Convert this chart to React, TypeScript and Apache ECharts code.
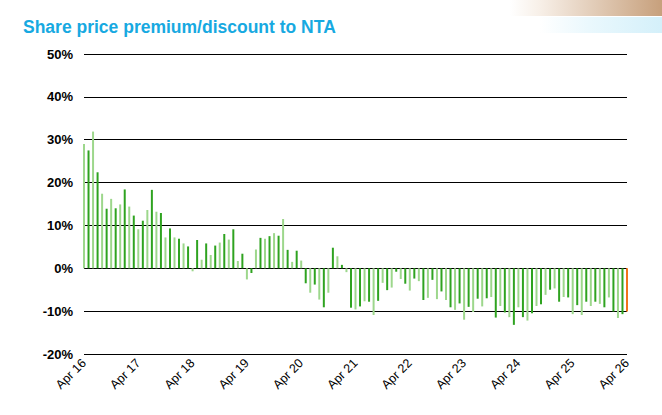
import React, { useEffect, useRef } from "react";
import * as echarts from "echarts";

// Monthly observations Apr 2016 .. Apr 2026 (premium(+)/discount(-) to NTA, %)
const values: number[] = [
  29.0, 27.5, 31.9, 22.4, 17.4, 13.9, 16.2, 14.0, 14.9, 18.4, 14.4, 12.3, 9.1, 11.1, 13.6, 18.3, 13.2, 12.9, 7.2, 9.3,
  7.2, 6.9, 5.8, 5.1, -0.7, 6.6, 2.0, 5.8, 3.1, 5.3, 6.0, 8.0, 6.7, 9.1, 1.7, 3.4, -2.6, -1.1, 4.4, 7.1,
  6.9, 7.5, 8.2, 7.6, 11.5, 4.3, 1.5, 4.1, 1.8, -3.5, -5.7, -3.8, -7.3, -9.1, -5.7, 4.8, 2.8, 0.8, -0.9, -9.2,
  -9.6, -8.9, -7.7, -7.8, -10.9, -7.6, -3.4, -5.1, -4.5, -0.8, -2.5, -3.6, -5.2, -2.4, -3.0, -7.4, -6.9, -2.7, -7.2, -5.4,
  -7.4, -9.1, -9.7, -8.2, -12.0, -9.0, -10.2, -7.1, -8.9, -7.0, -6.7, -11.5, -8.8, -10.3, -11.4, -13.2, -9.1, -11.4, -12.2, -10.5,
  -8.8, -8.4, -6.2, -5.0, -4.7, -7.8, -6.7, -6.8, -10.7, -8.6, -10.9, -7.8, -8.8, -7.8, -8.3, -9.1, -6.8, -10.1, -11.6, -10.7, -10.1,
];

const monthNames = ["Jan", "Feb", "Mar", "Apr", "May", "Jun", "Jul", "Aug", "Sep", "Oct", "Nov", "Dec"];
const startYear = 2016;
const startMonth = 3; // April
const tickLabels = ["Apr 16", "Apr 17", "Apr 18", "Apr 19", "Apr 20", "Apr 21", "Apr 22", "Apr 23", "Apr 24", "Apr 25", "Apr 26"];
const yTicks = [-20, -10, 0, 10, 20, 30, 40, 50];

const categories: string[] = values.map((_, i) => {
  const m = (startMonth + i) % 12;
  const y = startYear + Math.floor((startMonth + i) / 12);
  return `${monthNames[m]} ${String(y).slice(2)}`;
});

const LIGHT = "#9dd78c";
const DARK = "#2fa320";
const LAST = "#f07418";

export default function App() {
  const ref = useRef<HTMLDivElement>(null);
  useEffect(() => {
    if (!ref.current) return;
    const chart = echarts.init(ref.current, null, { renderer: "svg" });
    const n = values.length;
    chart.setOption({
      animation: false,
      backgroundColor: "#ffffff",
      title: {
        text: "Share price premium/discount to NTA",
        left: 23,
        top: 18,
        padding: 0,
        textStyle: {
          color: "#17a9e1",
          fontSize: 17.5,
          fontWeight: "bold",
          fontFamily: "Arial, 'Liberation Sans', sans-serif",
        },
      },
      graphic: [
        {
          type: "rect",
          shape: { x: 510, y: 0, width: 152, height: 16 },
          style: {
            fill: new echarts.graphic.LinearGradient(0, 0, 1, 0, [
              { offset: 0, color: "rgba(255,255,255,1)" },
              { offset: 0.2, color: "#f7efe7" },
              { offset: 1, color: "#c7a07c" },
            ]),
          },
          silent: true,
        },
        {
          type: "rect",
          shape: { x: 540, y: 17, width: 122, height: 16 },
          style: {
            fill: new echarts.graphic.LinearGradient(0, 0, 1, 0, [
              { offset: 0, color: "rgba(255,255,255,1)" },
              { offset: 0.4, color: "#eaf8fd" },
              { offset: 1, color: "#d4f0fa" },
            ]),
          },
          silent: true,
        },
      ],
      grid: { left: 84, right: 35, top: 54, bottom: 61, containLabel: false },
      xAxis: {
        type: "category",
        data: categories,
        boundaryGap: false,
        axisLine: { show: false },
        axisTick: { show: false },
        splitLine: { show: false },
        axisLabel: {
          interval: (index: number) => index % 12 === 0,
          formatter: (v: string, idx: number) => tickLabels[Math.round(idx / 12)] ?? v,
          rotate: 45,
          margin: 7,
          color: "#000",
          fontSize: 12.5,
          fontFamily: "Arial, 'Liberation Sans', sans-serif",
        },
      },
      yAxis: {
        type: "value",
        min: yTicks[0],
        max: yTicks[yTicks.length - 1],
        interval: 10,
        axisLine: { show: false },
        axisTick: { show: false },
        splitLine: { show: true, lineStyle: { color: "#000", width: 1 } },
        axisLabel: {
          formatter: "{value}%",
          color: "#000",
          fontSize: 13,
          fontWeight: "bold",
          margin: 11,
          fontFamily: "Arial, 'Liberation Sans', sans-serif",
        },
      },
      series: [
        {
          type: "bar",
          barWidth: 2,
          data: values.map((v, i) => ({
            value: v,
            itemStyle: { color: i === n - 1 ? LAST : i % 2 === 0 ? LIGHT : DARK },
          })),
        },
      ],
    });
    return () => chart.dispose();
  }, []);
  return (
    <div
      ref={ref}
      style={{ position: "fixed", left: 0, top: 0, width: 662, height: 415, background: "#fff" }}
    />
  );
}
